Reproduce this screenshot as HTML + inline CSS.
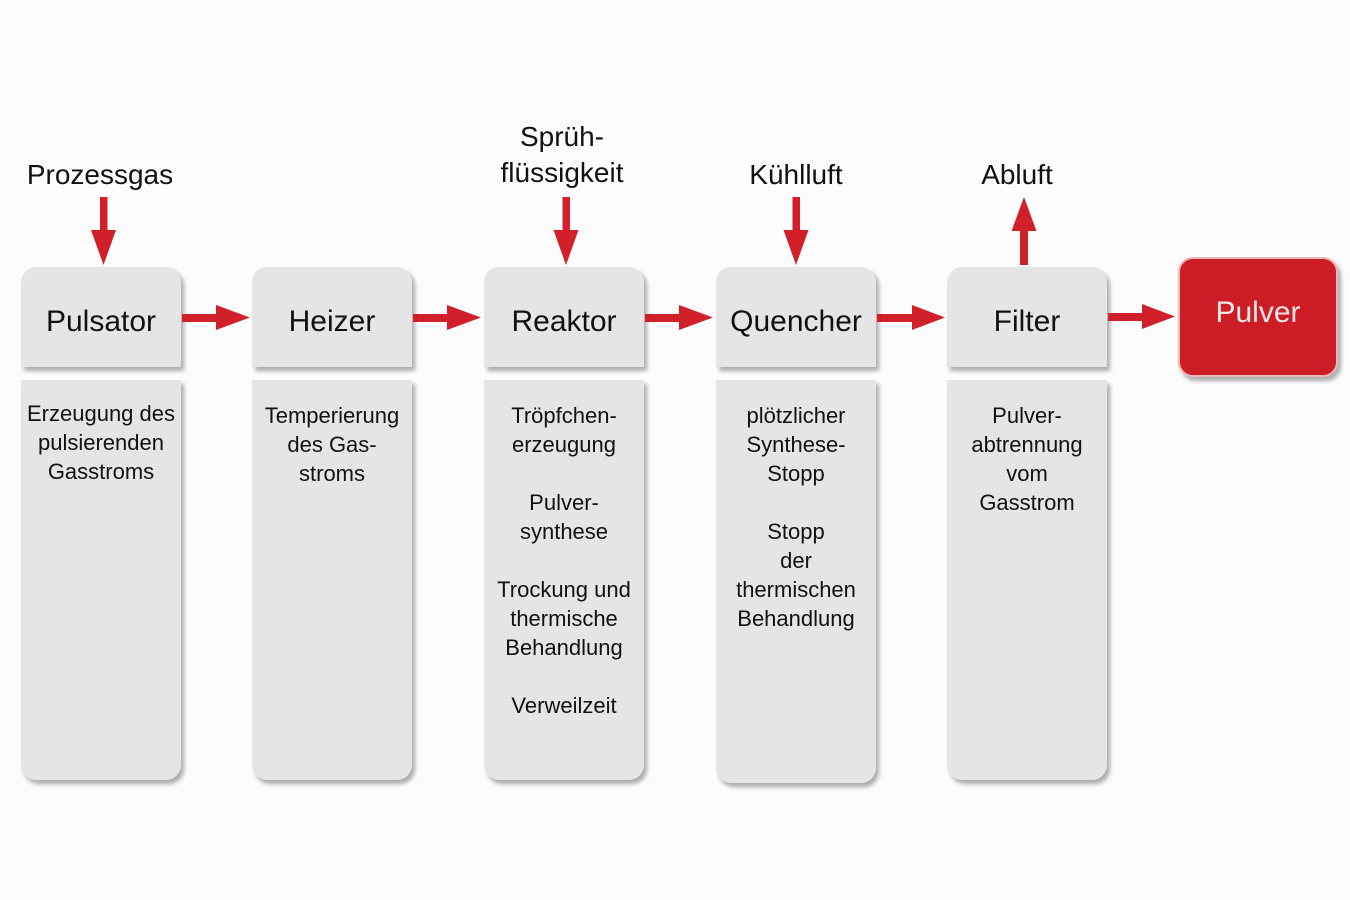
<!DOCTYPE html>
<html>
<head>
<meta charset="utf-8">
<style>
  html,body{margin:0;padding:0;}
  body{width:1350px;height:900px;position:relative;background:#fcfcfc;overflow:hidden;
       font-family:"Liberation Sans",sans-serif;color:#111;}
  .top{position:absolute;top:267px;width:160px;height:100px;background:#e5e5e5;
       border-radius:15px 15px 0 0;box-shadow:3px 4px 4px rgba(0,0,0,0.32);}
  .low{position:absolute;top:380px;width:160px;height:400px;background:#e5e5e5;
       border-radius:0 0 15px 15px;box-shadow:3px 4px 4px rgba(0,0,0,0.32);}
  .ttl{position:absolute;left:0;width:100%;text-align:center;font-size:30px;line-height:30px;top:40px;}
  .desc{position:absolute;left:-10px;width:180px;text-align:center;font-size:22px;line-height:29px;top:21px;}
  .lbl{position:absolute;text-align:center;font-size:28px;line-height:36px;width:240px;}
  .pulver{position:absolute;left:1178px;top:257px;width:156px;height:116px;background:#cc1d26;
       border:2px solid #eeb7b7;border-radius:15px;box-shadow:3px 4px 4px rgba(0,0,0,0.32);}
</style>
</head>
<body>

<!-- labels above -->
<div class="lbl" style="left:-20px;top:157px;">Prozessgas</div>
<div class="lbl" style="left:442px;top:119px;">Sprüh-<br>flüssigkeit</div>
<div class="lbl" style="left:676px;top:157px;">Kühlluft</div>
<div class="lbl" style="left:897px;top:157px;">Abluft</div>

<!-- Pulsator -->
<div class="top" style="left:21px;"><div class="ttl">Pulsator</div></div>
<div class="low" style="left:21px;"><div class="desc" style="top:19px;">Erzeugung des<br>pulsierenden<br>Gasstroms</div></div>

<!-- Heizer -->
<div class="top" style="left:252px;"><div class="ttl">Heizer</div></div>
<div class="low" style="left:252px;"><div class="desc">Temperierung<br>des Gas-<br>stroms</div></div>

<!-- Reaktor -->
<div class="top" style="left:484px;"><div class="ttl">Reaktor</div></div>
<div class="low" style="left:484px;"><div class="desc">Tröpfchen-<br>erzeugung<br><br>Pulver-<br>synthese<br><br>Trockung und<br>thermische<br>Behandlung<br><br>Verweilzeit</div></div>

<!-- Quencher -->
<div class="top" style="left:716px;"><div class="ttl">Quencher</div></div>
<div class="low" style="left:716px;height:403px;"><div class="desc">plötzlicher<br>Synthese-<br>Stopp<br><br>Stopp<br>der<br>thermischen<br>Behandlung</div></div>

<!-- Filter -->
<div class="top" style="left:947px;"><div class="ttl">Filter</div></div>
<div class="low" style="left:947px;"><div class="desc">Pulver-<br>abtrennung<br>vom<br>Gasstrom</div></div>

<!-- Pulver -->
<div class="pulver"><div class="ttl" style="top:39px;color:#f7e6e6;">Pulver</div></div>

<!-- arrows -->
<svg width="1350" height="900" style="position:absolute;left:0;top:0;" xmlns="http://www.w3.org/2000/svg">
  <g fill="#d2202a">
    <!-- horizontal -->
    <rect x="182" y="314" width="36" height="8"/><polygon points="216,305 250,317.5 216,330"/>
    <rect x="413" y="314" width="36" height="8"/><polygon points="447,305 481,317.5 447,330"/>
    <rect x="645" y="314" width="36" height="8"/><polygon points="679,305 713,317.5 679,330"/>
    <rect x="877" y="314" width="37" height="8"/><polygon points="912,305 945,317.5 912,330"/>
    <rect x="1108" y="313" width="36" height="8"/><polygon points="1142,304 1175,316.5 1142,329"/>
    <!-- vertical down -->
    <rect x="100" y="197" width="7.5" height="35"/><polygon points="91,230 116,230 103.5,265"/>
    <rect x="562.5" y="197" width="7.5" height="35"/><polygon points="553.5,230 578.5,230 566,265"/>
    <rect x="792.5" y="197" width="7.5" height="35"/><polygon points="783.5,230 808.5,230 796,265"/>
    <!-- vertical up -->
    <rect x="1020" y="228" width="8" height="37"/><polygon points="1011.5,231 1036.5,231 1024,197"/>
  </g>
</svg>

</body>
</html>
